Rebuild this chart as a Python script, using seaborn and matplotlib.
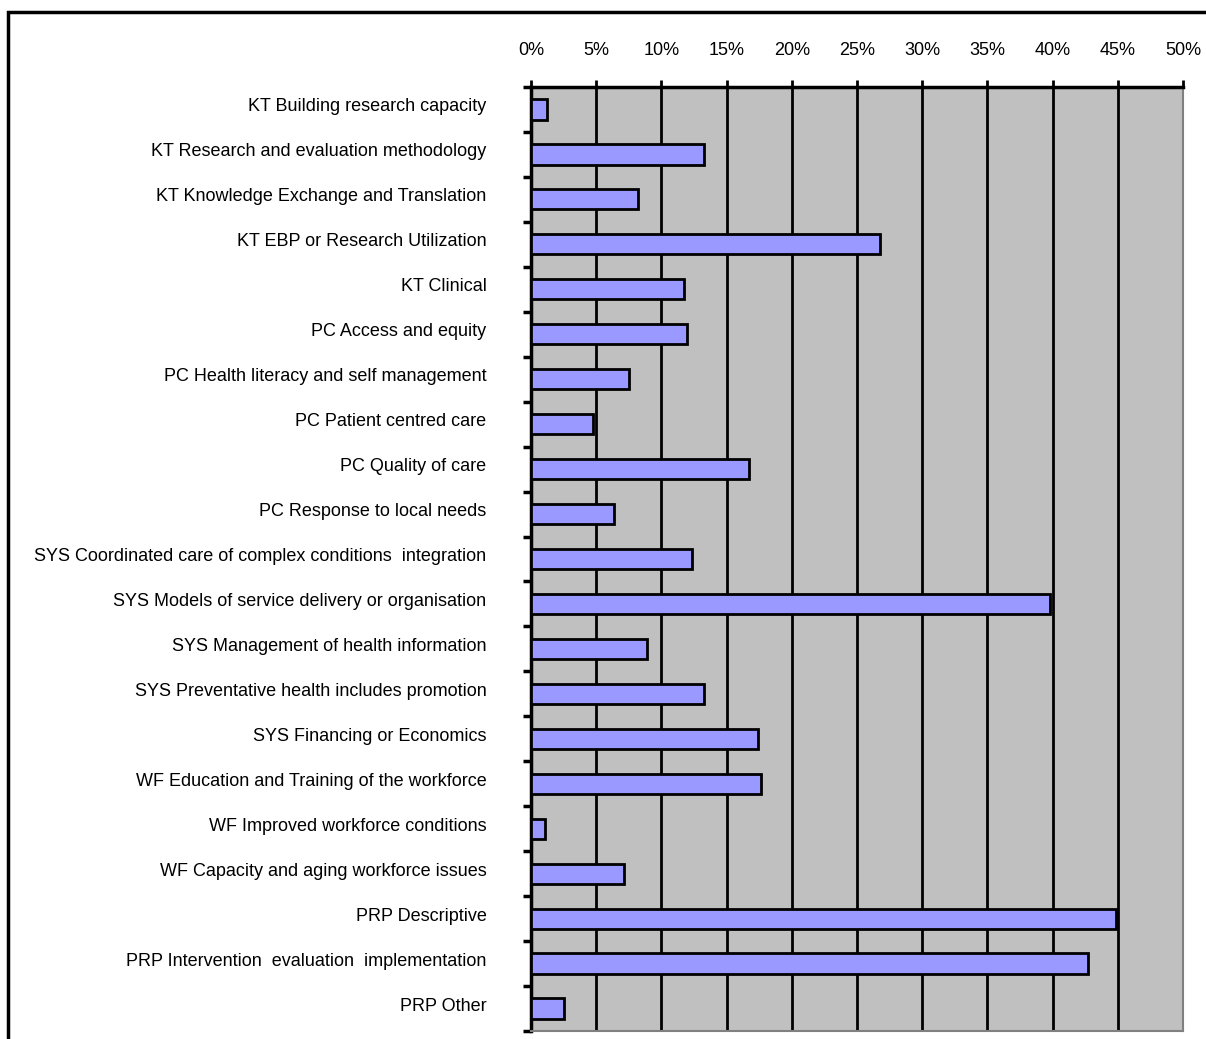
import matplotlib
matplotlib.use("Agg")
import matplotlib.pyplot as plt
from matplotlib.patches import Rectangle
from matplotlib.ticker import PercentFormatter
import numpy as np
import pandas as pd
import seaborn as sns

# topics and share of projects (percent)
topics = [
    "KT Building research capacity",
    "KT Research and evaluation methodology",
    "KT Knowledge Exchange and Translation",
    "KT EBP or Research Utilization",
    "KT Clinical",
    "PC Access and equity",
    "PC Health literacy and self management",
    "PC Patient centred care",
    "PC Quality of care",
    "PC Response to local needs",
    "SYS Coordinated care of complex conditions  integration",
    "SYS Models of service delivery or organisation",
    "SYS Management of health information",
    "SYS Preventative health includes promotion",
    "SYS Financing or Economics",
    "WF Education and Training of the workforce",
    "WF Improved workforce conditions",
    "WF Capacity and aging workforce issues",
    "PRP Descriptive",
    "PRP Intervention  evaluation  implementation",
    "PRP Other",
]
share = [1.2, 13.3, 8.2, 26.8, 11.7, 12.0, 7.5, 4.75, 16.7, 6.4, 12.35,
         39.8, 8.9, 13.3, 17.4, 17.6, 1.1, 7.1, 44.9, 42.7, 2.5]
x_ticks = list(range(0, 55, 5))

df = pd.DataFrame({"topic": topics, "share": share})

sns.set_style("white")
plt.rcParams['font.family'] = ['Liberation Sans Narrow', 'Liberation Sans', 'DejaVu Sans']

fig = plt.figure(figsize=(12.06, 10.39), dpi=100)
ax = fig.add_axes([531 / 1206, 1 - 1031 / 1039, (1183 - 531) / 1206, (1031 - 87) / 1039])
ax.set_facecolor("#C0C0C0")

sns.barplot(data=df, x="share", y="topic", orient="h", color="#9999FF",
            edgecolor="black", linewidth=2, width=0.45, saturation=1, ax=ax, zorder=3)

ax.set_xlim(0, 50)
ax.set_ylim(len(topics) - 0.5, -0.5)
ax.set_xticks(x_ticks)
ax.xaxis.set_major_formatter(PercentFormatter(decimals=0))
ax.xaxis.tick_top()
ax.tick_params(axis="x", direction="out", length=5, width=2, pad=15,
               labelsize=13, colors="black", top=True)
ax.grid(axis="x", color="black", linewidth=2, zorder=1)
ax.set_axisbelow(True)

# category labels a little above the bar centres, tick marks at the boundaries
ax.set_yticks(np.arange(len(topics)) - 0.1)
ax.set_yticklabels(topics)
ax.set_yticks(np.arange(-0.5, len(topics) + 0.5, 1), minor=True)
ax.tick_params(axis="y", which="major", left=False, length=0, pad=32,
               labelsize=13, labelcolor="black")
ax.tick_params(axis="y", which="minor", left=True, direction="out", length=6,
               width=2.5, color="black")
ax.set_xlabel("")
ax.set_ylabel("")

for side in ["top", "left"]:
    ax.spines[side].set_color("black")
    ax.spines[side].set_linewidth(2.5)
for side in ["right", "bottom"]:
    ax.spines[side].set_color("#808080")
    ax.spines[side].set_linewidth(1.5)

# outer frame of the chart (only top and left edges visible)
fig.patches.append(Rectangle((8 / 1206, -0.1), 1.2, 1.1 - 12 / 1039,
                             transform=fig.transFigure, fill=False,
                             edgecolor="black", linewidth=2.5, zorder=0))

fig.savefig("out.png", dpi=100)
